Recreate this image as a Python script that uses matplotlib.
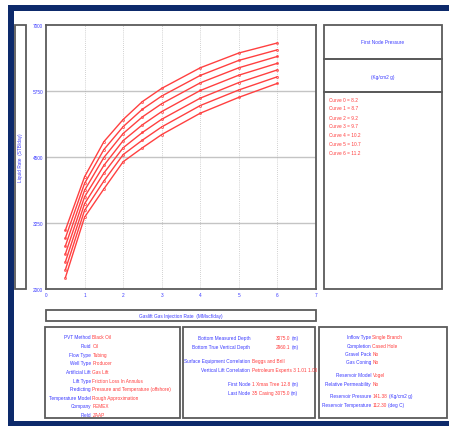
import numpy as np
import matplotlib.pyplot as plt
from matplotlib.patches import Rectangle

# Gaslift performance curves (liquid rate vs gas injection rate)
gas_rate = [0.5, 1, 1.5, 2, 2.5, 3, 4, 5, 6]
curve0 = [3110, 4125, 4790, 5210, 5550, 5800, 6190, 6470, 6660]
curve1 = [2960, 4000, 4640, 5075, 5405, 5655, 6045, 6330, 6530]
curve2 = [2810, 3870, 4490, 4945, 5260, 5510, 5905, 6190, 6405]
curve3 = [2660, 3745, 4340, 4810, 5110, 5360, 5760, 6050, 6275]
curve4 = [2510, 3615, 4195, 4675, 4965, 5215, 5615, 5910, 6150]
curve5 = [2360, 3490, 4045, 4545, 4820, 5070, 5475, 5770, 6020]
curve6 = [2210, 3360, 3895, 4410, 4675, 4925, 5330, 5630, 5895]
curves = [curve0, curve1, curve2, curve3, curve4, curve5, curve6]
node_pressure = [8.2, 8.7, 9.2, 9.7, 10.2, 10.7, 11.2]

x_ticks = [0, 1, 2, 3, 4, 5, 6, 7]
y_ticks = [2000, 3250, 4500, 5750, 7000]

# info panels: (label, value, unit)
info1 = [("PVT Method", "Black Oil", ""), ("Fluid", "Oil", ""), ("Flow Type", "Tubing", ""),
         ("Well Type", "Producer", ""), ("Artificial Lift", "Gas Lift", ""),
         ("Lift Type", "Friction Loss In Annulus", ""),
         ("Predicting", "Pressure and Temperature (offshore)", ""),
         ("Temperature Model", "Rough Approximation", ""), ("Company", "PEMEX", ""),
         ("Field", "ZAAP", "")]
info2 = [("Bottom Measured Depth", "3075.0", "(m)"), ("Bottom True Vertical Depth", "2960.1", "(m)"),
         None,
         ("Surface Equipment Correlation", "Beggs and Brill", ""),
         ("Vertical Lift Correlation", "Petroleum Experts 3 1.01 1.00", ""),
         None,
         ("First Node", "1 Xmas Tree 12.8", "(m)"), ("Last Node", "35 Casing 3075.0", "(m)")]
info3 = [("Inflow Type", "Single Branch", ""), ("Completion", "Cased Hole", ""),
         ("Gravel Pack", "No", ""), ("Gas Coning", "No", ""), None,
         ("Reservoir Model", "Vogel", ""), ("Relative Permeability", "No", ""), None,
         ("Reservoir Pressure", "141.38", "(Kg/cm2 g)"), ("Reservoir Temperature", "112.30", "(deg C)")]

W, H = 449, 427
BLUE = '#3a3aff'
RED = '#ff3b3b'
EDGE = '#5a5a5a'
FONT = ['Liberation Sans Narrow', 'Liberation Sans', 'DejaVu Sans']
FS = 3.4

fig = plt.figure(figsize=(W / 100, H / 100), dpi=100)
plt.rcParams['font.family'] = FONT

# background canvas in pixel coordinates
bg = fig.add_axes([0, 0, 1, 1])
bg.set_xlim(0, W)
bg.set_ylim(H, 0)
bg.axis('off')

def box(x0, y0, x1, y1, lw=1.3, color=EDGE):
    bg.add_patch(Rectangle((x0, y0), x1 - x0, y1 - y0, fill=False, lw=lw, ec=color))

# navy frame
bg.add_patch(Rectangle((8, 6), W, 5.5, color='#0d2a6b', lw=0))
bg.add_patch(Rectangle((8, 6), 5.5, H, color='#0d2a6b', lw=0))
bg.add_patch(Rectangle((8, 421.5), W, 6, color='#0d2a6b', lw=0))

# y label box
box(15, 26, 26, 290)
bg.text(20.5, 158, "Liquid Rate  (STB/day)", color=BLUE, fontsize=FS, rotation=90,
        ha='center', va='center')

# x label box
box(46, 311, 316, 322)
bg.text(181, 316.5, "Gaslift Gas Injection Rate  (MMscf/day)", color=BLUE, fontsize=FS,
        ha='center', va='center')

# legend panel
box(324, 26, 442, 60)
box(324, 60, 442, 93)
box(324, 93, 442, 290)
bg.text(383, 43, "First Node Pressure", color=BLUE, fontsize=FS, ha='center', va='center')
bg.text(383, 77, "(Kg/cm2 g)", color=BLUE, fontsize=FS, ha='center', va='center')
for i, p in enumerate(node_pressure):
    bg.text(329, 100 + i * 9, f"Curve {i} = {p}", color=RED, fontsize=FS, ha='left', va='center')

# bottom info panels
box(45, 328, 180, 419)
box(183, 328, 315, 419)
box(319, 328, 447, 419)

def panel(rows, xsplit, y0, dy, val_x=None):
    y = y0
    for k, r in enumerate(rows):
        if r is None:
            y += dy * 0.55
            continue
        lab, val, unit = r
        bg.text(xsplit, y, lab, color=BLUE, fontsize=FS, ha='right', va='center')
        vx = xsplit + 1.5
        if val_x is not None and k in val_x:
            vx = val_x[k]
        t = bg.text(vx, y, val, color=RED, fontsize=FS, ha='left', va='center')
        if unit:
            fig.canvas.draw()
            bb = t.get_window_extent()
            xe = bg.transData.inverted().transform((bb.x1, bb.y0))[0]
            bg.text(xe + 1.5, y, unit, color=BLUE, fontsize=FS, ha='left', va='center')
        y += dy

panel(info1, 91, 338, 8.6)
panel(info2, 250, 339, 9.0, val_x={0: 276, 1: 276})
panel(info3, 371, 338, 8.3)

# main plot
ax = fig.add_axes([46 / W, 1 - 290 / H, (316 - 46) / W, (290 - 26) / H])
for c in curves:
    ax.plot(gas_rate, c, color='#ff4040', lw=1.0, marker='o', ms=1.5, mfc='none', mew=0.5)
ax.set_xlim(0, 7)
ax.set_ylim(2000, 7000)
ax.set_xticks(x_ticks)
ax.set_yticks(y_ticks)
ax.set_xticklabels([str(v) for v in x_ticks])
ax.set_yticklabels([str(v) for v in y_ticks])
ax.tick_params(length=0, labelsize=FS, labelcolor=BLUE, pad=2)
for v in y_ticks[1:-1]:
    ax.axhline(v, color='#c4c4c4', lw=1.0, zorder=0)
for v in x_ticks[1:-1]:
    ax.axvline(v, color='#a8a8a8', lw=0.5, ls=(0, (1, 2)), zorder=0)
for s in ax.spines.values():
    s.set_color(EDGE)
    s.set_linewidth(1.3)

fig.savefig('out.png', dpi=100)
